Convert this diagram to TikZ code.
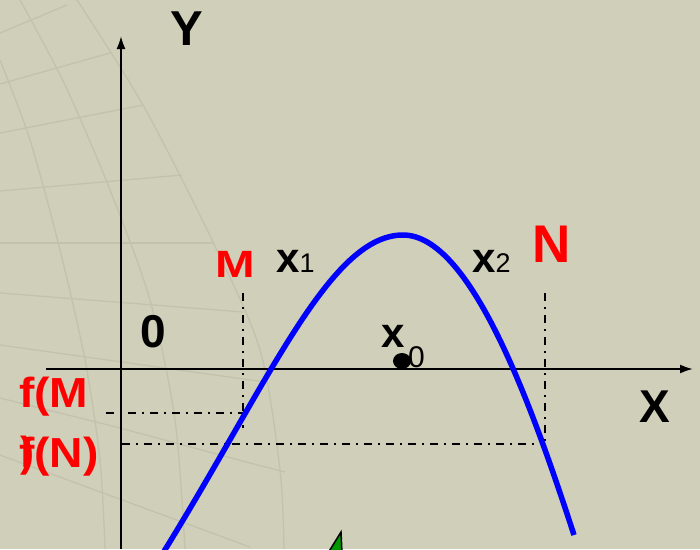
\documentclass[tikz,border=0pt]{standalone}
\usepackage{fontspec}
\setmainfont{Liberation Sans}
\usetikzlibrary{arrows.meta}
\definecolor{bg}{RGB}{208,207,185}
\definecolor{texl}{RGB}{195,194,173}
\definecolor{gr}{RGB}{0,150,0}
\begin{document}
\begin{tikzpicture}[x=1pt,y=-1pt,
  axis/.style={line width=2pt, -{Latex[length=13pt,width=9pt]}},
  dd/.style={line width=1.7pt, dash pattern=on 8pt off 6pt on 2pt off 6pt},
  curve/.style={blue, line width=5.5pt},
  tx/.style={texl, line width=1.3pt},
  lbl/.style={inner sep=0pt, anchor=base west},
  bigb/.style={font=\fontsize{#1}{#1}\selectfont\bfseries}
]
\fill[bg] (0,0) rectangle (700,549);
\useasboundingbox (0,0) rectangle (700,549);
% background texture
\draw[tx] (0,33) -- (67,5);
\draw[tx] (0,84) -- (110,53);
\draw[tx] (0,133) -- (143,105);
\draw[tx] (0,191) -- (182,175);
\draw[tx] (0,243) -- (213,243);
\draw[tx] (0,293) -- (243,312);
\draw[tx] (0,345) -- (265,382);
\draw[tx] (0,398) -- (120,428) -- (250,463) -- (285,472);
\draw[tx] (0,455) -- (250,547);
\draw[tx] plot[smooth] coordinates {(77,0) (143,105) (213,242) (260,350) (280,470) (284,549)};
\draw[tx] plot[smooth] coordinates {(20,0) (65,85) (110,190) (150,300) (175,420) (185,549)};
\draw[tx] plot[smooth] coordinates {(0,60) (30,140) (60,250) (85,360) (100,460) (105,549)};
% axes
\coordinate (xs) at (46,369);
\coordinate (xe) at (693,369);
\coordinate (ys) at (121,549);
\coordinate (ye) at (121,36);
\draw[axis] (xs) -- (xe);
\draw[axis] (ys) -- (ye);
% dash-dot guides
\coordinate (mt) at (243,293);
\coordinate (mb) at (243,428);
\coordinate (mh) at (243,413);
\coordinate (ml) at (106,413);
\coordinate (nt) at (545,293);
\coordinate (nb) at (545,444);
\coordinate (nl) at (122,444);
\draw[dd] (mt) -- (mb);
\draw[dd] (ml) -- (mh);
\draw[dd] (nt) -- (nb);
\draw[dd] (nl) -- (nb);
% curve
\coordinate (cs) at (163,553);
\coordinate (cv) at (403,235);
\coordinate (ce) at (574,535);
\draw[curve] (cs) .. controls (270,380) and (330,235) .. (cv)
              .. controls (470,235) and (530,400) .. (ce);
% x0 dot
\fill[black] (402,361) ellipse [x radius=9pt, y radius=8pt];
% green triangle
\filldraw[fill=gr, draw=black, line width=1.5pt] (341,532) -- (342,553) -- (328,553) -- cycle;
% labels
\node[lbl, bigb=49] (ylab) at (170,45) {Y};
\node[lbl, bigb=46] (xlab) at (639,422) {X};
\node[lbl, bigb=46] (zero) at (140,347) {0};
\node[lbl, bigb=38, red] (mlab) at (215,277) {\scalebox{1.25}[1]{M}};
\node[lbl, bigb=53, red] (nlab) at (532,262) {N};
\node[lbl] (x1) at (276,272) {\fontsize{42}{42}\selectfont\bfseries x\mdseries\fontsize{27}{27}\selectfont 1};
\node[lbl] (x2) at (472,272) {\fontsize{42}{42}\selectfont\bfseries x\mdseries\fontsize{27}{27}\selectfont 2};
\node[lbl, bigb=42] (x0) at (381,347) {x};
\node[lbl, font=\fontsize{30}{30}\selectfont] (x0s) at (408,367) {0};
\node[lbl, bigb=42, red] (fm) at (19,407) {\scalebox{1.1}[1]{f(M}};
\node[lbl, bigb=42, red] (fmp) at (20,466) {)};
\node[lbl, bigb=42, red] (fn) at (19,467) {\scalebox{1.1}[1]{f(N)}};
\end{tikzpicture}
\end{document}
